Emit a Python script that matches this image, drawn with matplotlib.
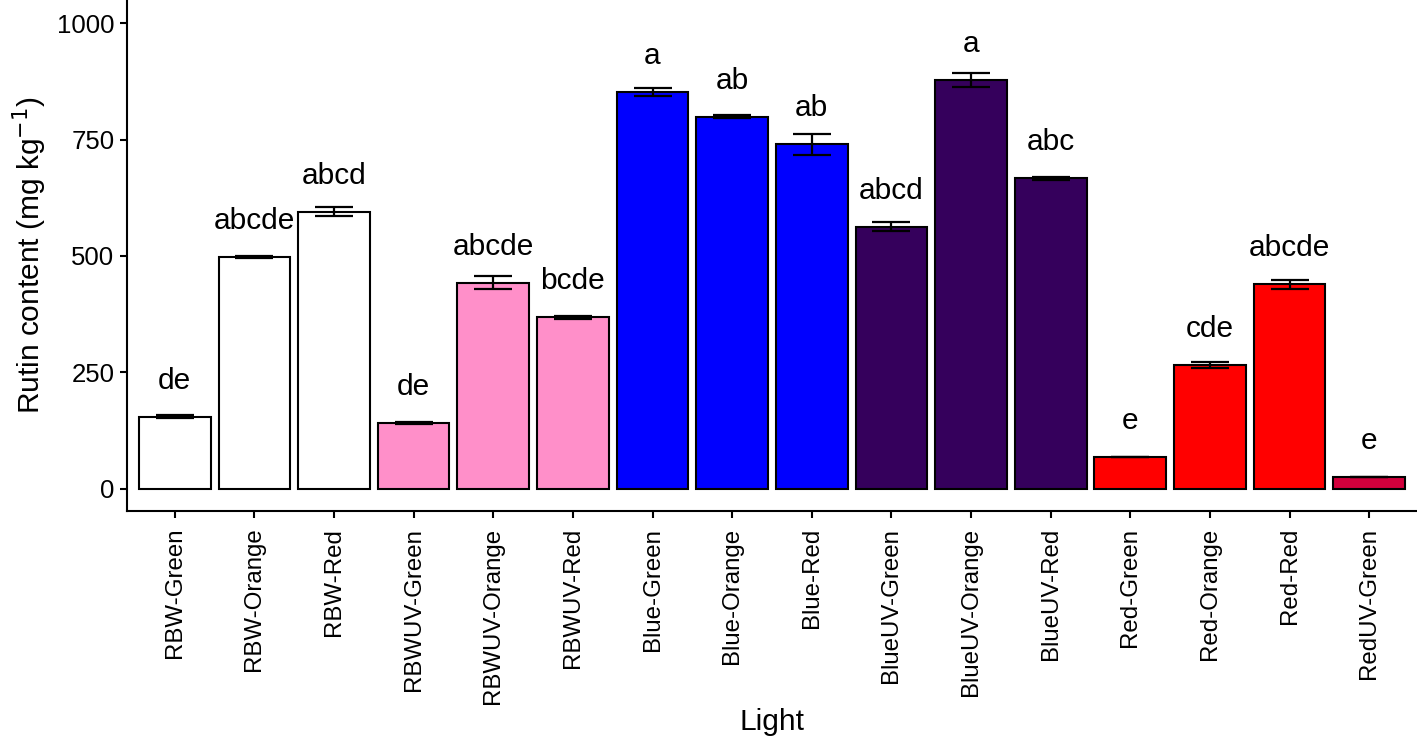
import numpy as np
import matplotlib
matplotlib.use("Agg")
import matplotlib.pyplot as plt

plt.rcParams['font.family'] = ['Liberation Sans', 'DejaVu Sans']

lights = ["RBW-Green", "RBW-Orange", "RBW-Red",
          "RBWUV-Green", "RBWUV-Orange", "RBWUV-Red",
          "Blue-Green", "Blue-Orange", "Blue-Red",
          "BlueUV-Green", "BlueUV-Orange", "BlueUV-Red",
          "Red-Green", "Red-Orange", "Red-Red", "RedUV-Green"]
rutin = [155, 498, 595, 141, 443, 368, 852, 799, 740, 563, 879, 667, 69, 266, 439, 25]
se = [3, 2, 10, 2, 14, 3, 9, 3, 22, 9, 15, 3, 0, 6, 9, 0]
letters = ["de", "abcde", "abcd", "de", "abcde", "bcde", "a", "ab", "ab",
           "abcd", "a", "abc", "e", "cde", "abcde", "e"]
colors = ["#ffffff"] * 3 + ["#ff8fc9"] * 3 + ["#0000ff"] * 3 + \
         ["#35005c"] * 3 + ["#ff0000"] * 3 + ["#d2003c"]

fig = plt.figure(figsize=(14.17, 7.48), dpi=100)
ax = fig.add_axes([0.0896, 0.3168, 0.9104, 0.6832])

x = np.arange(len(lights))
ax.bar(x, rutin, width=0.9, color=colors, edgecolor="black", linewidth=1.5, zorder=2)
ax.errorbar(x, rutin, yerr=se, fmt="none", ecolor="black", elinewidth=1.6,
            capsize=14, capthick=1.6, zorder=3)

for xi, v, lab in zip(x, rutin, letters):
    ax.text(xi, v + 60, lab, ha="center", va="baseline", fontsize=21.5, color="black")

ax.set_xlim(-0.6, len(lights) - 0.4)
ax.set_ylim(-48, 1050)
ax.set_yticks([0, 250, 500, 750, 1000])
ax.set_xticks(x)
ax.set_xticklabels(lights, rotation=90, ha="center", va="top")

ax.spines["top"].set_visible(False)
ax.spines["right"].set_visible(False)
ax.spines["left"].set_linewidth(1.5)
ax.spines["bottom"].set_linewidth(1.5)
ax.tick_params(axis="both", length=5, width=1.5, colors="black")
ax.tick_params(axis="x", pad=7, labelsize=17.3)
ax.tick_params(axis="y", pad=4, labelsize=18.5)

ax.set_ylabel("Rutin content (mg kg$^{-1}$)", fontsize=21.5, labelpad=6)
ax.set_xlabel("Light", fontsize=21.5, labelpad=3)

fig.savefig("out.png", dpi=100)
